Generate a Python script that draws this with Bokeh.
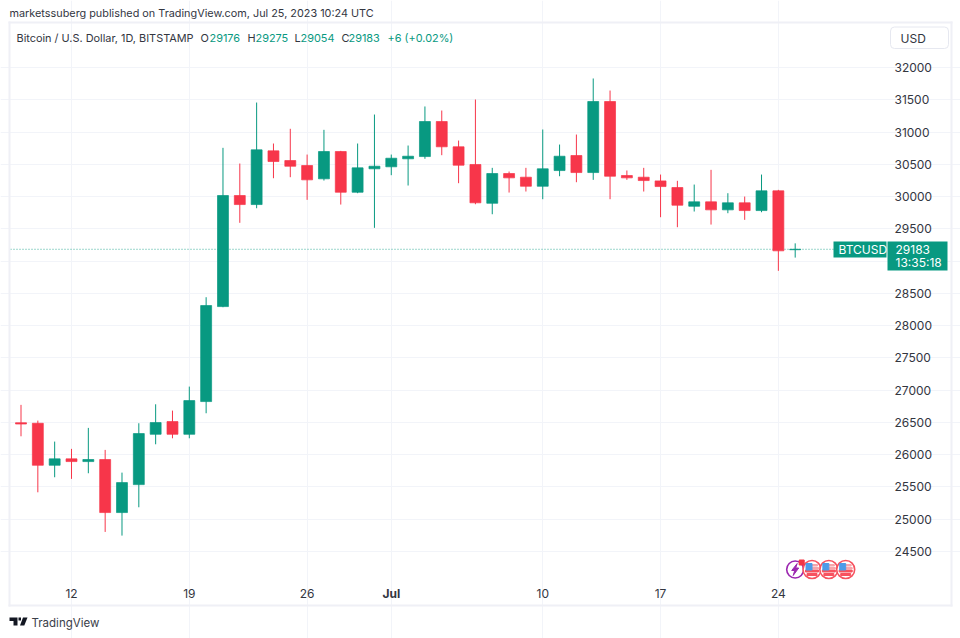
from bokeh.embed import file_html
from bokeh.models import BoxAnnotation, FixedTicker, Grid, Label, LinearAxis, PolyAnnotation, Range1d
from bokeh.plotting import figure
from bokeh.resources import INLINE

# daily candles, Jun 9 to Jul 25 2023
days = list(range(47))
opens = [26495, 26487, 25836, 25935, 25893, 25925, 25103, 25536, 26316, 26513, 26316, 26823, 28295, 30016, 29876, 30708, 30558, 30481, 30275, 30698, 30067, 30430, 30461, 30585, 30620, 31163, 30771, 30497, 29896, 30357, 30300, 30160, 30403, 30636, 30372, 31473, 30326, 30300, 30243, 30140, 29850, 29918, 29794, 29903, 29783, 30089, 29176]
highs = [26772, 26528, 26203, 26090, 26415, 26074, 25722, 26487, 26781, 26683, 27055, 28440, 30755, 30512, 31457, 30822, 31050, 30651, 31034, 30708, 30822, 31271, 30651, 30791, 31396, 31333, 30868, 31504, 30445, 30388, 30445, 31039, 30806, 30961, 31830, 31643, 30404, 30445, 30341, 30244, 30186, 30414, 30052, 30000, 30341, 30104, 29275]
lows = [26285, 25417, 25650, 25625, 25712, 24803, 24746, 25185, 26161, 26254, 26254, 26642, 28285, 29593, 29819, 30284, 30300, 29949, 30248, 29876, 30052, 29515, 30331, 30171, 30585, 30641, 30207, 29881, 29726, 30062, 30078, 29959, 30315, 30222, 30259, 29959, 30259, 30078, 29680, 29525, 29768, 29566, 29742, 29639, 29757, 28849, 29054]
closes = [26475, 25836, 25935, 25893, 25925, 25103, 25567, 26327, 26497, 26316, 26838, 28311, 30016, 29876, 30724, 30543, 30470, 30259, 30698, 30067, 30445, 30470, 30594, 30625, 31163, 30771, 30486, 29903, 30357, 30290, 30160, 30430, 30625, 30372, 31473, 30315, 30290, 30248, 30155, 29866, 29918, 29794, 29903, 29783, 30089, 29159, 29183]

price_ticks = [24500, 25000, 25500, 26000, 26500, 27000, 27500, 28000, 28500, 29000, 29500, 30000, 30500, 31000, 31500, 32000]
date_ticks = [3, 10, 17, 22, 31, 38, 45]
date_labels = ["12", "19", "26", "", "10", "17", "24"]
month_tick = 22
month_label = "Jul"

header = "marketssuberg published on TradingView.com, Jul 25, 2023 10:24 UTC"
symbol = "Bitcoin / U.S. Dollar, 1D, BITSTAMP"
ohlc_keys = ["O", "H", "L", "C"]
ohlc_vals = ["29176", "29275", "29054", "29183"]
change = "+6 (+0.02%)"
last_price = 29183
countdown = "13:35:18"

lightning_day = 46
flag_days = [47, 48, 49]

UP = "#089981"
DOWN = "#f7364a"
GRID = "#f2f4f9"
BORDER = "#eff0f6"
TEXT = "#33363f"
FONT = "Inter"

# page pixels per data unit; the frame fills the page so nothing gets clipped
DAY_PX = 16.83
PRICE_PX = 0.06453
W, H = 960, 638


def day_at(px):
    return 3 + (px - 71) / DAY_PX


def price_at(py):
    return 32000 - (py - 67) / PRICE_PX


p = figure(width=W, height=H, output_backend="svg", toolbar_location=None,
           x_range=Range1d(day_at(0), day_at(W)), y_range=Range1d(price_at(H), price_at(0)),
           x_axis_location=None, y_axis_location=None, min_border=0)
p.outline_line_color = None
p.background_fill_color = "white"
p.border_fill_color = "white"
p.grid.visible = False

pane_left, pane_right = day_at(10), day_at(887)
pane_bottom, pane_top = price_at(580), price_at(23)

p.add_layout(Grid(dimension=0, ticker=FixedTicker(ticks=date_ticks), grid_line_color=GRID, bounds=(pane_bottom, pane_top)))
p.add_layout(Grid(dimension=1, ticker=FixedTicker(ticks=price_ticks), grid_line_color=GRID, bounds=(pane_left, pane_right)))

xaxis = LinearAxis(fixed_location=pane_bottom, ticker=FixedTicker(ticks=date_ticks),
                   major_label_overrides=dict(zip(date_ticks, date_labels)), major_label_standoff=2)
yaxis = LinearAxis(fixed_location=pane_right, ticker=FixedTicker(ticks=price_ticks), major_label_standoff=1)
p.add_layout(xaxis, "below")
p.add_layout(yaxis, "right")
for ax in [xaxis, yaxis]:
    ax.axis_line_color = None
    ax.major_tick_line_color = None
    ax.minor_tick_line_color = None
    ax.major_label_text_font = FONT
    ax.major_label_text_font_size = "12px"
    ax.major_label_text_color = TEXT

colors = [UP if c >= o else DOWN for o, c in zip(opens, closes)]
data = dict(day=days, open=opens, high=highs, low=lows, close=closes, color=colors)
p.line([pane_left, day_at(833)], [last_price, last_price], line_color=UP, line_width=1, line_dash=[1, 2], line_alpha=0.8)
p.segment("day", "high", "day", "low", source=data, color="color", line_width=1)
p.vbar("day", 0.65, "open", "close", source=data, fill_color="color", line_color="color", line_alpha=0.7)

# event icons under the last candles
event_y = price_at(569)


def px_x(day, dx):
    return day + dx / DAY_PX


def px_y(dy):
    return event_y - dy / PRICE_PX


bolt = [(2, -6), (-3.5, 1), (-0.5, 1), (-2, 6), (3.5, -1.5), (0.5, -1.5)]
p.scatter([lightning_day], [event_y], size=17, fill_color="white", line_color="#9c27b0", line_width=1.6)
p.patch([px_x(lightning_day, a) for a, b in bolt], [px_y(b) for a, b in bolt], color="#9c27b0")
p.scatter(flag_days, [event_y] * 3, size=18, fill_color="white", line_color="#f7525f", line_width=1.6)
for d in flag_days:
    p.quad(left=[px_x(d, -6.5)], right=[px_x(d, 6.5)], top=[px_y(0.5)], bottom=[px_y(2.5)], color="#f7525f")
    p.quad(left=[px_x(d, -5)], right=[px_x(d, 5)], top=[px_y(4)], bottom=[px_y(6)], color="#f7525f")
    p.quad(left=[px_x(d, 0)], right=[px_x(d, 5.5)], top=[px_y(-5)], bottom=[px_y(-3.5)], color="#f7a5ab")
    p.quad(left=[px_x(d, 0)], right=[px_x(d, 6.5)], top=[px_y(-2)], bottom=[px_y(-0.5)], color="#f7a5ab")
    p.quad(left=[px_x(d, -6)], right=[px_x(d, 0)], top=[px_y(-6)], bottom=[px_y(0.5)], color="#4d9be8")
p.scatter([px_x(lightning_day, 6.5)], [px_y(-7)], marker="square", size=5, color="#f23645")


def text(x, y, s, color=TEXT, size="10.9px", align="left", style="normal"):
    p.add_layout(Label(x=x, y=y, x_units="canvas", y_units="canvas", text=s,
                       text_color=color, text_font=FONT, text_font_size=size, text_align=align,
                       text_baseline="middle", text_font_style=style))


def box(left, top, right, bottom, fill=None, line=None, radius=0):
    p.add_layout(BoxAnnotation(left=left, right=right, top=top, bottom=bottom,
                               left_units="canvas", right_units="canvas", top_units="canvas", bottom_units="canvas",
                               fill_color=fill, fill_alpha=1 if fill else 0, line_color=line, line_width=1,
                               line_alpha=1 if line else 0, border_radius=radius))


# pane frame
box(8, 21, 10, 606, fill=BORDER)
box(8, 21, 952, 23, fill=BORDER)
box(950, 21, 952, 606, fill=BORDER)
box(8, 604, 952, 606, fill=BORDER)

text(9, 12.5, header, size="10.85px")
text(16, 37, symbol)
for key, val, kx, vx in zip(ohlc_keys, ohlc_vals, [200, 247, 294, 341], [209, 255, 300, 348]):
    text(kx, 37, key)
    text(vx, 37, val, color=UP)
text(387, 37, change, color=UP)

box(890, 26.5, 948, 48, fill="white", line="#e6e8f0", radius=4)
text(900, 37.5, "USD", size="12px")

box(833, 241, 886, 257, fill=UP)
box(887, 241, 947, 270, fill=UP)
text(838, 249, "BTCUSD", color="white", size="12px")
text(895, 249, str(last_price), color="white", size="12px")
text(895, 262, countdown, color="white", size="12px")

# month label is bold, the axis can't do that per tick
p.add_layout(Label(x=month_tick, y=593, x_units="data", y_units="canvas", text=month_label,
                   text_color=TEXT, text_font=FONT, text_font_size="12px", text_font_style="bold",
                   text_align="center", text_baseline="middle"))

# TradingView logo and wordmark
logo_t = [(9, 617), (17, 617), (17, 625), (13, 625), (13, 620.5), (9, 620.5)]
logo_v = [(22.5, 617), (27, 617), (23.8, 625), (19.5, 625)]
logo_dot = [(18, 617), (20.5, 617), (20.5, 620), (18, 620)]
for shape in [logo_t, logo_v, logo_dot]:
    p.add_layout(PolyAnnotation(xs=[a for a, b in shape], ys=[b for a, b in shape],
                                xs_units="canvas", ys_units="canvas", fill_color="#131722", fill_alpha=1,
                                line_color=None))
text(31, 622.5, "TradingView", color="#3a3e49", size="11.5px")

open("out.html", "w").write(file_html(p, INLINE))
